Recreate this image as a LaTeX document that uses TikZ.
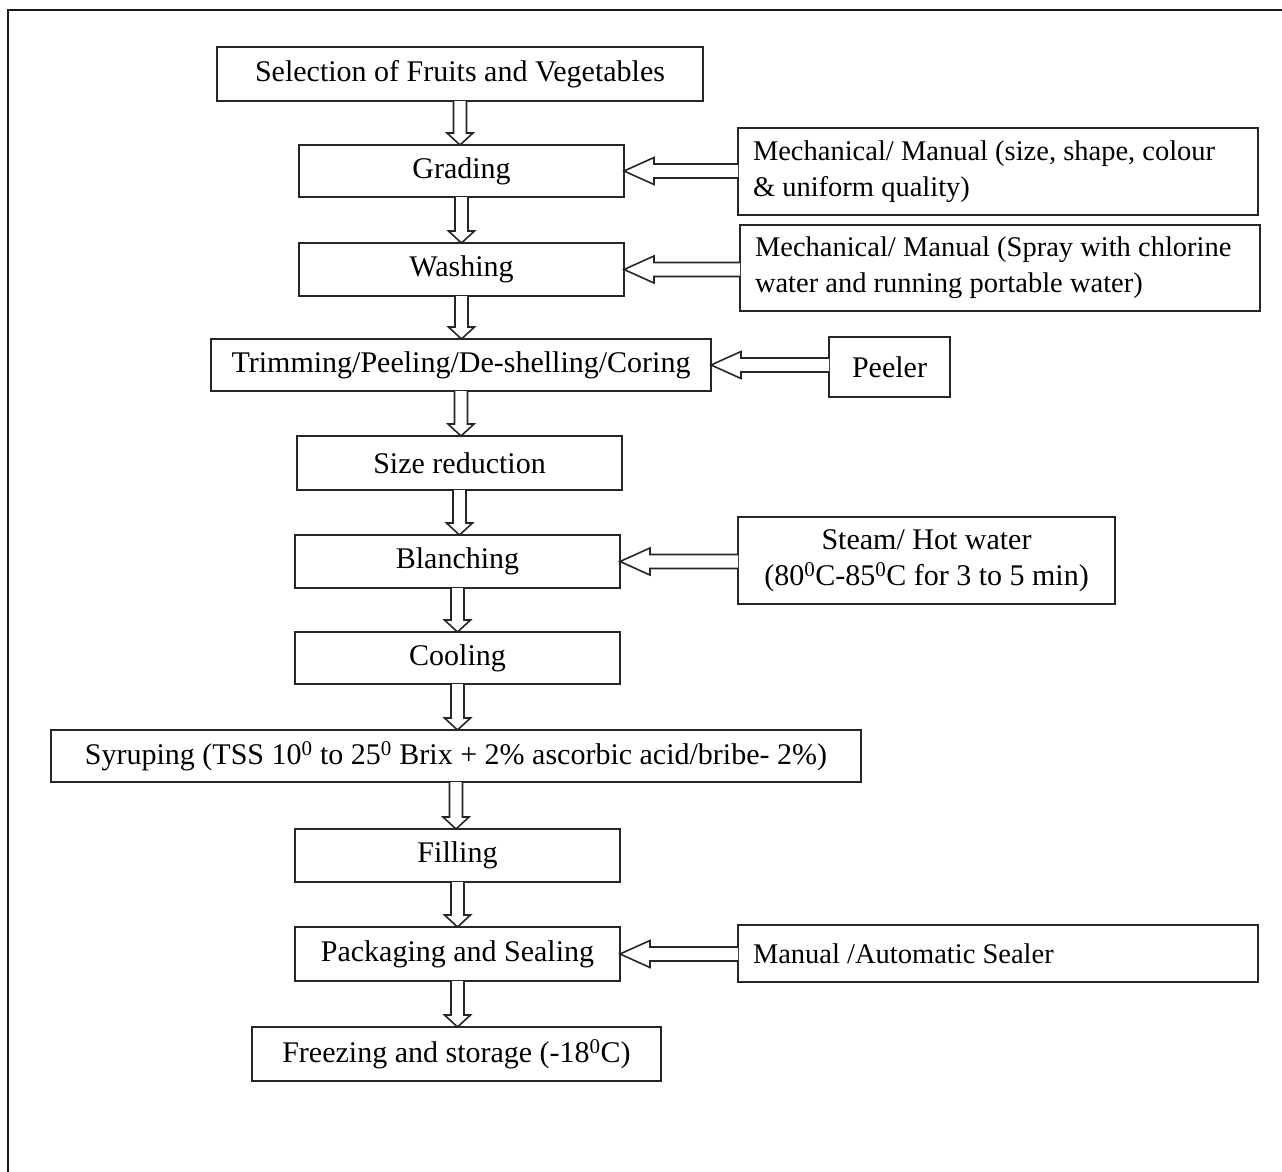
\documentclass[tikz,border=0pt]{standalone}
\usepackage{fontspec}
\setmainfont{Liberation Serif}
\usetikzlibrary{calc}
\tikzset{
  stage/.style 2 args={draw=black!85,line width=1.6pt,fill=white,inner sep=0pt,
    outer sep=0pt,minimum width=#1pt,minimum height=#2pt},
  note/.style 2 args={stage={#1}{#2},align=flush left,text width=#1pt-30pt,
    inner xsep=15pt,font=\fontsize{28.5}{36}\selectfont},
  hollow/.style={draw=black!85,fill=white,line width=1.6pt,line join=miter}
}
% hollow block arrow going down from #1 to #2
\newcommand{\downarr}[2]{%
  \filldraw[hollow] let \p1=(#1.south), \p2=(#2.north) in
    (\x1-6.5pt,\y1) -- (\x1-6.5pt,\y2+12pt) -- (\x1-13pt,\y2+12pt) -- (\x1,\y2)
    -- (\x1+13pt,\y2+12pt) -- (\x1+6.5pt,\y2+12pt) -- (\x1+6.5pt,\y1);}
% hollow block arrow going left from #1 to #2
\newcommand{\sidearr}[2]{%
  \filldraw[hollow] let \p1=(#1.west), \p2=(#2.east) in
    (\x1,\y2+7pt) -- (\x2+30pt,\y2+7pt) -- (\x2+30pt,\y2+13.5pt) -- (\x2,\y2)
    -- (\x2+30pt,\y2-13.5pt) -- (\x2+30pt,\y2-7pt) -- (\x1,\y2-7pt);}

\begin{document}
\begin{tikzpicture}[x=1pt,y=-1pt,font=\fontsize{30}{36}\selectfont]
  \useasboundingbox (0,0) rectangle (1282,1172);
  \draw[line width=2pt,black!90] (8,1172) -- (8,10) -- (1282,10);
  % main line
  \node[stage={486}{54}] (sel)  at (460,74)     {Selection of Fruits and Vegetables};
  \node[stage={325}{52}] (grad) at (461.5,171)  {Grading};
  \node[stage={325}{53}] (wash) at (461.5,269.5) {Washing};
  \node[stage={500}{52}] (trim) at (461,365)    {Trimming/Peeling/De-shelling/Coring};
  \node[stage={325}{54}] (size) at (459.5,463)  {Size reduction};
  \node[stage={325}{53}] (blan) at (457.5,561.5) {Blanching};
  \node[stage={325}{52}] (cool) at (457.5,658)  {Cooling};
  \node[stage={810}{52}] (syr)  at (456,756)
    {Syruping (TSS 10\textsuperscript{0} to 25\textsuperscript{0} Brix + 2\% ascorbic acid/bribe- 2\%)};
  \node[stage={325}{53}] (fill) at (457.5,855.5) {Filling};
  \node[stage={325}{54}] (pack) at (457.5,954)  {Packaging and Sealing};
  \node[stage={409}{54}] (frz)  at (456.5,1054)
    {Freezing and storage (-18\textsuperscript{0}C)};
  % side inputs
  \node[note={520}{87}] (mechA) at (998,171.5)
    {Mechanical/ Manual (size, shape, colour\\ \& uniform quality)};
  \node[note={520}{86}] (mechB) at (1000,268)
    {Mechanical/ Manual (Spray with chlorine\\ water and running portable water)};
  \node[stage={121}{60}] (peel) at (889.5,367) {Peeler};
  \node[stage={377}{87},align=center] (steam) at (926.5,560.5)
    {Steam/ Hot water\\ (80\textsuperscript{0}C-85\textsuperscript{0}C for 3 to 5 min)};
  \node[note={520}{57}] (seal) at (998,953.5) {Manual /Automatic Sealer};
  % arrows
  \downarr{sel}{grad}
  \downarr{grad}{wash}
  \downarr{wash}{trim}
  \downarr{trim}{size}
  \downarr{size}{blan}
  \downarr{blan}{cool}
  \downarr{cool}{syr}
  \downarr{syr}{fill}
  \downarr{fill}{pack}
  \downarr{pack}{frz}
  \sidearr{mechA}{grad}
  \sidearr{mechB}{wash}
  \sidearr{peel}{trim}
  \sidearr{steam}{blan}
  \sidearr{seal}{pack}
\end{tikzpicture}
\end{document}
